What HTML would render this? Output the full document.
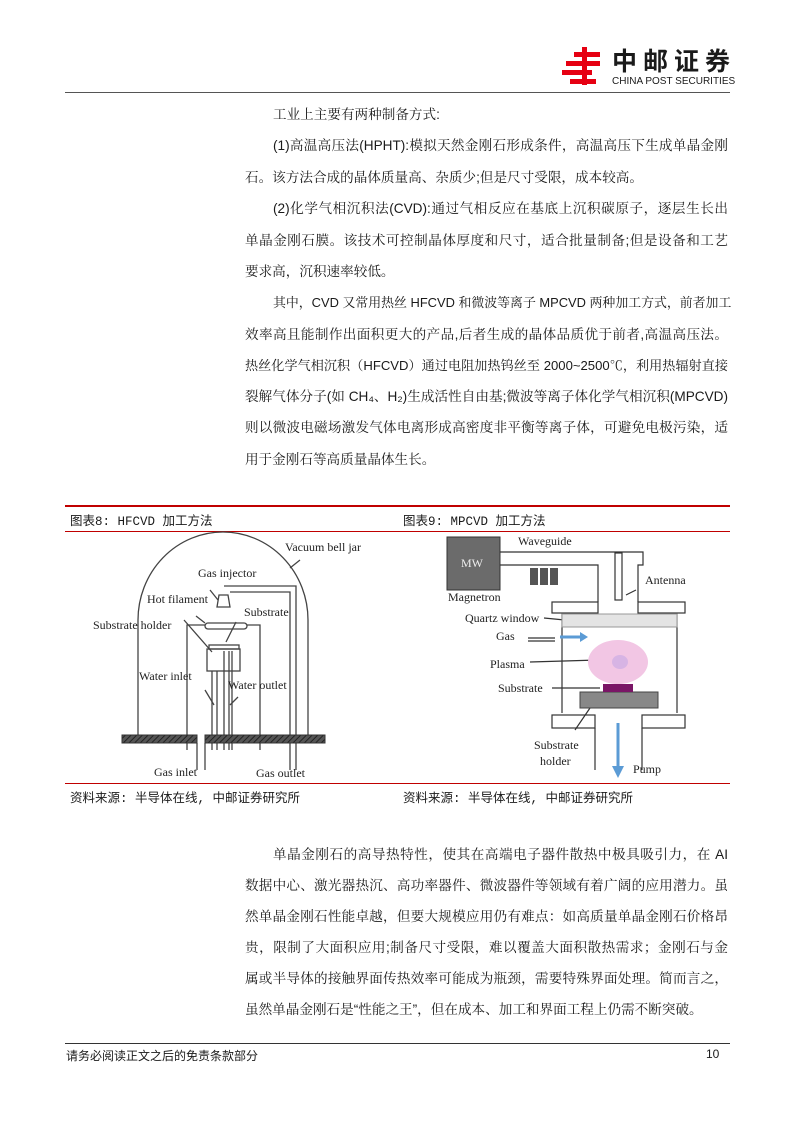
<!DOCTYPE html>
<html><head><meta charset="utf-8"><style>
body{margin:0;background:#fff;}
#p{position:relative;width:794px;height:1123px;overflow:hidden;font-family:"Liberation Sans Narrow","Liberation Sans","Noto Serif CJK SC",serif;color:#1a1a1a;}
.l{position:absolute;left:245px;width:483px;font-size:13.6px;height:20px;line-height:20px;text-align:justify;text-align-last:justify;white-space:nowrap;overflow:visible;}
.i{left:273px;width:455px;}
.n{text-align-last:left;}
.hr{position:absolute;height:0;}
.sm{position:absolute;font-size:12.5px;font-family:"Liberation Mono","Noto Sans CJK SC",monospace;}
svg text{font-family:"Liberation Serif",serif;font-size:12px;fill:#222;}
</style></head><body><div id="p">
<!-- header -->
<svg style="position:absolute;left:560px;top:44px" width="45" height="45" viewBox="0 0 45 45">
<g fill="#e60012"><rect x="14" y="8" width="26" height="5"/><rect x="6" y="17" width="34" height="5"/><rect x="2" y="26" width="30" height="5"/><rect x="22" y="3" width="5" height="38"/><rect x="10" y="35" width="26" height="5"/></g></svg>
<div style="position:absolute;left:612px;top:46px;font-family:'Noto Sans CJK SC',sans-serif;font-weight:bold;font-size:25px;letter-spacing:6px;line-height:28px">中邮证券</div>
<div style="position:absolute;left:612px;top:76px;font-family:'Liberation Sans',sans-serif;font-size:10px;line-height:12px">CHINA POST SECURITIES</div>
<div class="hr" style="left:65px;width:665px;top:92px;border-top:1px solid #555"></div>

<div class="l i n" style="top:105px">工业上主要有两种制备方式:</div>
<div class="l i" style="top:136px">(1)高温高压法(HPHT):模拟天然金刚石形成条件，高温高压下生成单晶金刚</div>
<div class="l n" style="top:168px">石。该方法合成的晶体质量高、杂质少;但是尺寸受限，成本较高。</div>
<div class="l i" style="top:199px">(2)化学气相沉积法(CVD):通过气相反应在基底上沉积碳原子，逐层生长出</div>
<div class="l" style="top:231px">单晶金刚石膜。该技术可控制晶体厚度和尺寸，适合批量制备;但是设备和工艺</div>
<div class="l n" style="top:262px">要求高，沉积速率较低。</div>
<div class="l i" style="top:293px;font-size:12.9px">其中，CVD 又常用热丝 HFCVD 和微波等离子 MPCVD 两种加工方式，前者加工</div>
<div class="l" style="top:325px">效率高且能制作出面积更大的产品,后者生成的晶体品质优于前者,高温高压法。</div>
<div class="l" style="top:356px;font-size:13.1px">热丝化学气相沉积（HFCVD）通过电阻加热钨丝至 2000~2500℃，利用热辐射直接</div>
<div class="l" style="top:387px">裂解气体分子(如 CH₄、H₂)生成活性自由基;微波等离子体化学气相沉积(MPCVD)</div>
<div class="l" style="top:418px">则以微波电磁场激发气体电离形成高密度非平衡等离子体，可避免电极污染，适</div>
<div class="l n" style="top:450px">用于金刚石等高质量晶体生长。</div>

<!-- figure frame -->
<div class="hr" style="left:65px;width:665px;top:505px;border-top:2px solid #c00000"></div>
<div class="hr" style="left:65px;width:665px;top:531px;border-top:1px solid #c00000"></div>
<div class="hr" style="left:65px;width:665px;top:783px;border-top:1px solid #c00000"></div>
<div class="sm" style="left:70px;top:510px">图表8: HFCVD 加工方法</div>
<div class="sm" style="left:403px;top:510px">图表9: MPCVD 加工方法</div>
<div class="sm" style="left:70px;top:787px">资料来源: 半导体在线, 中邮证券研究所</div>
<div class="sm" style="left:403px;top:787px">资料来源: 半导体在线, 中邮证券研究所</div>

<svg style="position:absolute;left:0;top:0" width="794" height="1123">
<defs><pattern id="h" width="4" height="4" patternUnits="userSpaceOnUse" patternTransform="rotate(45)"><rect width="4" height="4" fill="#555"/><rect width="1" height="4" fill="#222"/></pattern></defs>
<!-- HFCVD -->
<g fill="none" stroke="#444" stroke-width="1.3">
<path d="M138,735 L138,620 A85,88 0 0 1 308,620 L308,735"/>
<path d="M224,586 L296,586 L296,770 M230,592 L290,592 L290,770"/>
<path d="M219,595 L228,595 L230,607 L217,607 Z"/>
<path d="M205,625 L187,625 L187,750 M247,625 L260,625 L260,750"/>
<rect x="205" y="623" width="42" height="6" rx="3"/>
<rect x="209" y="645" width="30" height="4"/>
<rect x="207" y="649" width="33" height="22"/>
<path d="M212,671 V750 M217,671 V750 M224,651 V750 M229,651 V750 M232,651 V750"/>
<path d="M197,743 V770 M205,743 V770"/>
<path d="M300,560 L290,568 M218,600 L210,590 M205,623 L196,616 M184,620 L212,652 M226,642 L236,622 M205,690 L214,705 M238,697 L230,705"/>
</g>
<rect x="122" y="735" width="75" height="8" fill="url(#h)" stroke="#333"/>
<rect x="205" y="735" width="120" height="8" fill="url(#h)" stroke="#333"/>
<text x="285" y="551">Vacuum bell jar</text>
<text x="198" y="577">Gas injector</text>
<text x="147" y="603">Hot filament</text>
<text x="244" y="616">Substrate</text>
<text x="93" y="629">Substrate holder</text>
<text x="139" y="680">Water inlet</text>
<text x="228" y="689">Water outlet</text>
<text x="154" y="776">Gas inlet</text>
<text x="256" y="777">Gas outlet</text>
<!-- MPCVD -->
<rect x="447" y="537" width="53" height="53" fill="#6b6b6b" stroke="#333"/>
<text x="461" y="567" style="fill:#eee">MW</text>
<g fill="none" stroke="#333" stroke-width="1.2">
<path d="M500,552 L643,552 L643,565 L638,565 L638,602 M500,565 L598,565 L598,602"/>
<rect x="615" y="553" width="7" height="47"/>
<rect x="552" y="602" width="46" height="11"/><rect x="638" y="602" width="47" height="11"/>
<path d="M562,613 V713 M677,613 V713"/>
<rect x="552" y="715" width="43" height="13"/><rect x="642" y="715" width="43" height="13"/>
<path d="M595,728 V770 M642,728 V770"/>
<path d="M544,618 L575,621 M530,662 L598,660 M552,688 L600,688 M575,730 L590,708 M626,595 L636,590"/>
<path d="M528,638 L555,638 M528,641 L555,641"/>
</g>
<rect x="530" y="568" width="8" height="17" fill="#555"/><rect x="540" y="568" width="8" height="17" fill="#555"/><rect x="550" y="568" width="8" height="17" fill="#555"/>
<rect x="562" y="614" width="115" height="13" fill="#e4e4e4" stroke="#999"/>
<path d="M560,637 L580,637" stroke="#5b9bd5" stroke-width="3"/><path d="M580,632 L588,637 L580,642Z" fill="#5b9bd5"/>
<ellipse cx="618" cy="662" rx="30" ry="22" fill="#f2c6e4"/>
<ellipse cx="620" cy="662" rx="8" ry="7" fill="#d7b4e4"/>
<rect x="580" y="692" width="78" height="16" fill="#888" stroke="#444"/>
<rect x="603" y="684" width="30" height="8" fill="#7a1566"/>
<path d="M618,723 V768" stroke="#5b9bd5" stroke-width="3"/><path d="M612,766 L618,778 L624,766Z" fill="#5b9bd5"/>
<text x="518" y="545">Waveguide</text>
<text x="645" y="584">Antenna</text>
<text x="448" y="601">Magnetron</text>
<text x="465" y="622">Quartz window</text>
<text x="496" y="640">Gas</text>
<text x="490" y="668">Plasma</text>
<text x="498" y="692">Substrate</text>
<text x="534" y="749">Substrate</text>
<text x="540" y="765">holder</text>
<text x="633" y="773">Pump</text>
</svg>

<div class="l i" style="top:845px">单晶金刚石的高导热特性，使其在高端电子器件散热中极具吸引力，在 AI</div>
<div class="l" style="top:876px">数据中心、激光器热沉、高功率器件、微波器件等领域有着广阔的应用潜力。虽</div>
<div class="l" style="top:907px">然单晶金刚石性能卓越，但要大规模应用仍有难点：如高质量单晶金刚石价格昂</div>
<div class="l" style="top:938px">贵，限制了大面积应用;制备尺寸受限，难以覆盖大面积散热需求；金刚石与金</div>
<div class="l" style="top:969px">属或半导体的接触界面传热效率可能成为瓶颈，需要特殊界面处理。简而言之，</div>
<div class="l n" style="top:1000px">虽然单晶金刚石是“性能之王”，但在成本、加工和界面工程上仍需不断突破。</div>

<div class="hr" style="left:65px;width:665px;top:1043px;border-top:1px solid #333"></div>
<div class="sm" style="left:66px;top:1047px;font-size:12px">请务必阅读正文之后的免责条款部分</div>
<div class="sm" style="left:706px;top:1047px;font-size:12px;font-family:'Liberation Sans',sans-serif">10</div>
</div></body></html>
